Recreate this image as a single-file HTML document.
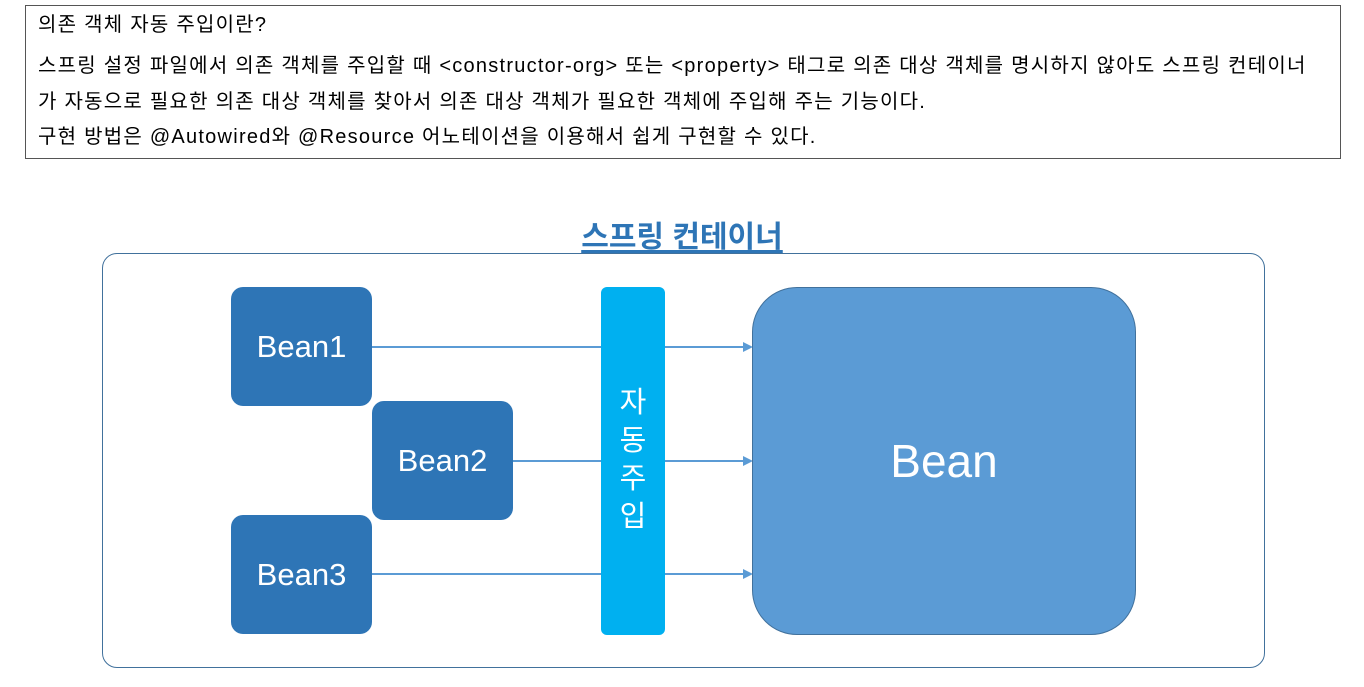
<!DOCTYPE html>
<html><head><meta charset="utf-8"><style>
body{margin:0;width:1364px;height:687px;background:#fff;position:relative;overflow:hidden;font-family:"Liberation Sans","Noto Sans CJK KR",sans-serif}
.tb{position:absolute;left:25px;top:5px;width:1316px;height:154px;border:1px solid #555;box-sizing:border-box}
.tl{position:absolute;left:12px;font-size:20px;color:#000;white-space:nowrap;line-height:24px;letter-spacing:1.25px}
.ab{position:absolute;box-sizing:border-box}
.bn{position:absolute;background:#2e75b6;border-radius:12px;color:#fff;font-size:31px;display:flex;align-items:center;justify-content:center;width:141px;height:119px}
</style></head><body>
<div class="tb">
<div class="tl" style="top:7px">의존 객체 자동 주입이란?</div>
<div class="tl" style="top:48px">스프링 설정 파일에서 의존 객체를 주입할 때 &lt;constructor-org&gt; 또는 &lt;property&gt; 태그로 의존 대상 객체를 명시하지 않아도 스프링 컨테이너</div>
<div class="tl" style="top:84px">가 자동으로 필요한 의존 대상 객체를 찾아서 의존 대상 객체가 필요한 객체에 주입해 주는 기능이다.</div>
<div class="tl" style="top:119px">구현 방법은 @Autowired와 @Resource 어노테이션을 이용해서 쉽게 구현할 수 있다.</div>
</div>
<div class="ab" style="left:102px;top:253px;width:1163px;height:415px;border:1.5px solid #41719c;border-radius:15px"></div>
<div style="position:absolute;left:0;width:1364px;top:218px;text-align:center;font-size:30px;font-weight:bold;color:#2e75b6;line-height:40px"><span style="text-decoration:underline;text-underline-offset:3px">스프링 컨테이너</span></div>
<svg style="position:absolute;left:0;top:0" width="1364" height="687">
<g stroke="#5b9bd5" stroke-width="2">
<line x1="371" y1="347" x2="601" y2="347"/><line x1="664" y1="347" x2="745" y2="347"/>
<line x1="513" y1="461" x2="601" y2="461"/><line x1="664" y1="461" x2="745" y2="461"/>
<line x1="371" y1="574" x2="601" y2="574"/><line x1="664" y1="574" x2="745" y2="574"/>
</g>
<g fill="#5b9bd5">
<polygon points="743,342 753,347 743,352"/><polygon points="743,456 753,461 743,466"/><polygon points="743,569 753,574 743,579"/>
</g>
</svg>
<div class="bn" style="left:231px;top:287px">Bean1</div>
<div class="bn" style="left:372px;top:401px">Bean2</div>
<div class="bn" style="left:231px;top:515px">Bean3</div>
<div class="ab" style="left:601px;top:287px;width:64px;height:348px;background:#00b0f0;border-radius:6px"></div>
<div style="position:absolute;left:601px;top:384px;width:64px;color:#fff;font-size:29px;text-align:center;line-height:38px">자<br>동<br>주<br>입</div>
<div class="ab" style="left:752px;top:287px;width:384px;height:348px;background:#5b9bd5;border:1.5px solid #41719c;border-radius:45px;color:#fff;font-size:46px;display:flex;align-items:center;justify-content:center">Bean</div>
</body></html>
